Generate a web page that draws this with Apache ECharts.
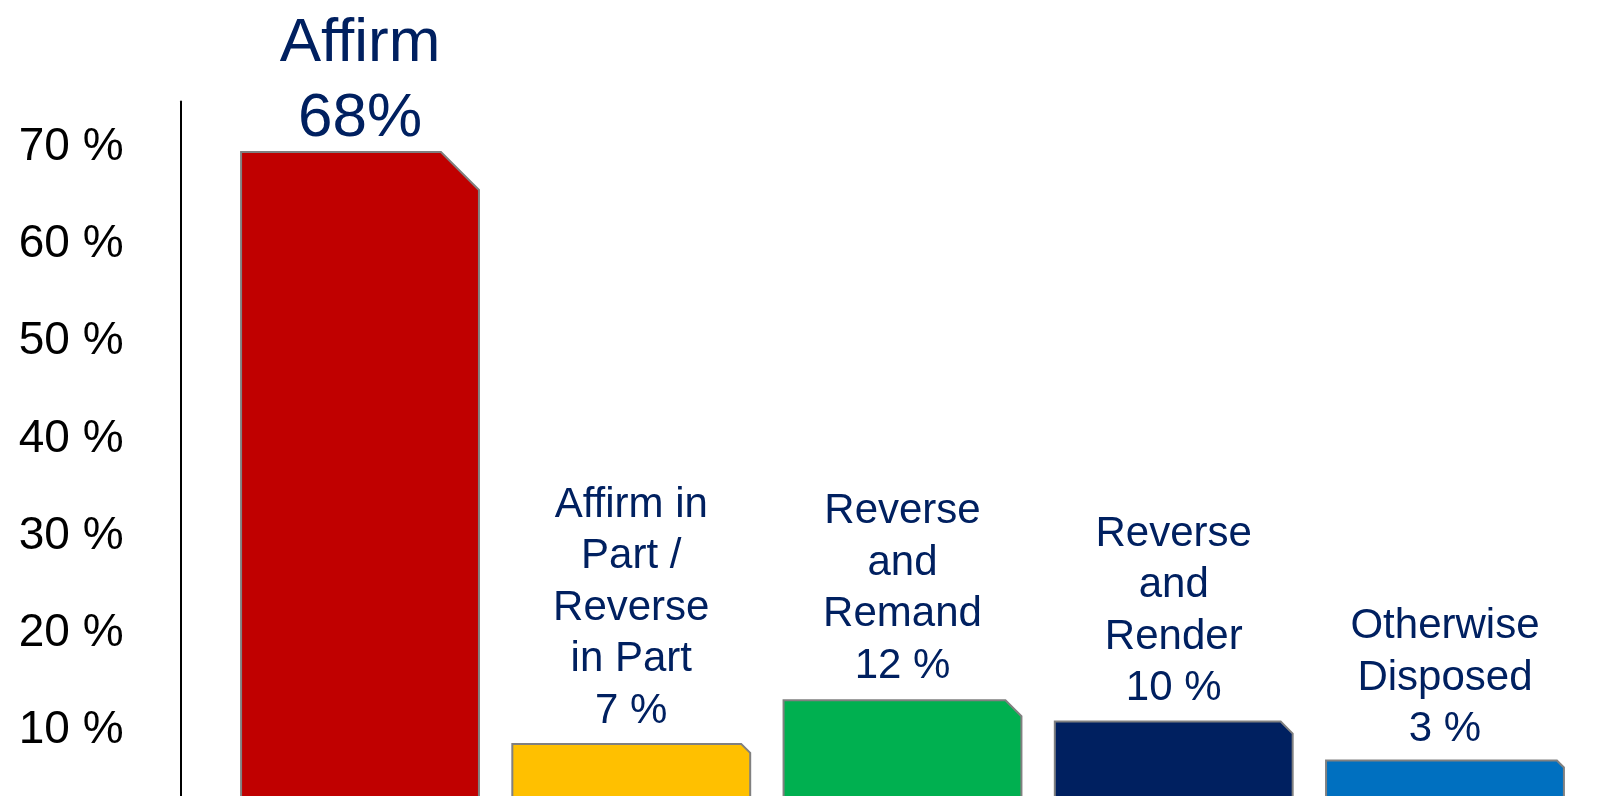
<!DOCTYPE html>
<html>
<head>
<meta charset="utf-8">
<script src="https://cdn.jsdelivr.net/npm/echarts@6/dist/echarts.min.js"></script>
<style>
  html, body { margin: 0; padding: 0; background: #fff; }
  #chart { width: 1598px; height: 796px; }
</style>
</head>
<body>
<div id="chart"></div>
<script>
// outcome categories (label lines), value labels and bar heights
var categories = [
  'Affirm',
  'Affirm in\nPart /\nReverse\nin Part',
  'Reverse\nand\nRemand',
  'Reverse\nand\nRender',
  'Otherwise\nDisposed'
]
var pctLabels = ['68%', '7 %', '12 %', '10 %', '3 %']
var values = [68.8, 7.9, 12.4, 10.2, 6.2]
var yTicks = [0, 10, 20, 30, 40, 50, 60, 70]

// styling
var colors = ['#C00000', '#FFC000', '#00B050', '#002060', '#0070C0']
var snip = [38, 9, 16, 12, 7] // cut corner size per bar
var labelGap = [-4, 7, 8, 7, 5]

var chart = echarts.init(document.getElementById('chart'))

function renderItem(params, api) {
  var i = api.value(0)
  var top = api.coord([i, api.value(1)])
  var base = api.coord([i, 0])
  var bw = api.size([1, 0])[0] * 0.877
  var x0 = top[0] - bw / 2
  var x1 = top[0] + bw / 2
  var y = top[1]
  var c = snip[i]
  var big = i === 0
  return {
    type: 'group',
    children: [
      {
        type: 'polygon',
        shape: { points: [[x0, base[1]], [x0, y], [x1 - c, y], [x1, y + c], [x1, base[1]]] },
        style: { fill: colors[i], stroke: '#808080', lineWidth: 2 }
      },
      {
        type: 'text',
        x: top[0],
        y: y - labelGap[i],
        style: {
          text: categories[i] + '\n' + pctLabels[i],
          fill: '#002060',
          fontFamily: 'Liberation Sans, Arial, sans-serif',
          fontSize: big ? 62 : 42,
          lineHeight: big ? 75 : 51.5,
          align: 'center',
          verticalAlign: 'bottom'
        }
      }
    ]
  }
}

chart.setOption({
  animation: false,
  grid: {
    left: 224.4,
    right: 17.4,
    top: 101.4,
    bottom: -24.7,
    containLabel: false,
    outerBoundsMode: 'none'
  },
  xAxis: {
    type: 'category',
    data: categories,
    axisLine: { show: false },
    axisTick: { show: false },
    axisLabel: { show: false }
  },
  yAxis: {
    type: 'value',
    min: yTicks[0],
    max: 74,
    interval: 10,
    offset: 43.4,
    splitLine: { show: false },
    axisTick: { show: false },
    axisLine: { show: true, lineStyle: { color: '#000', width: 2 } },
    axisLabel: {
      margin: 57.4,
      fontSize: 46,
      color: '#000',
      verticalAlign: 'top',
      lineHeight: 14,
      fontFamily: 'Liberation Sans, Arial, sans-serif',
      formatter: function (v) {
        return yTicks.indexOf(v) >= 0 ? v + ' %' : ''
      }
    }
  },
  series: [
    {
      type: 'custom',
      renderItem: renderItem,
      data: values.map(function (v, i) { return [i, v] })
    }
  ]
})
</script>
</body>
</html>
